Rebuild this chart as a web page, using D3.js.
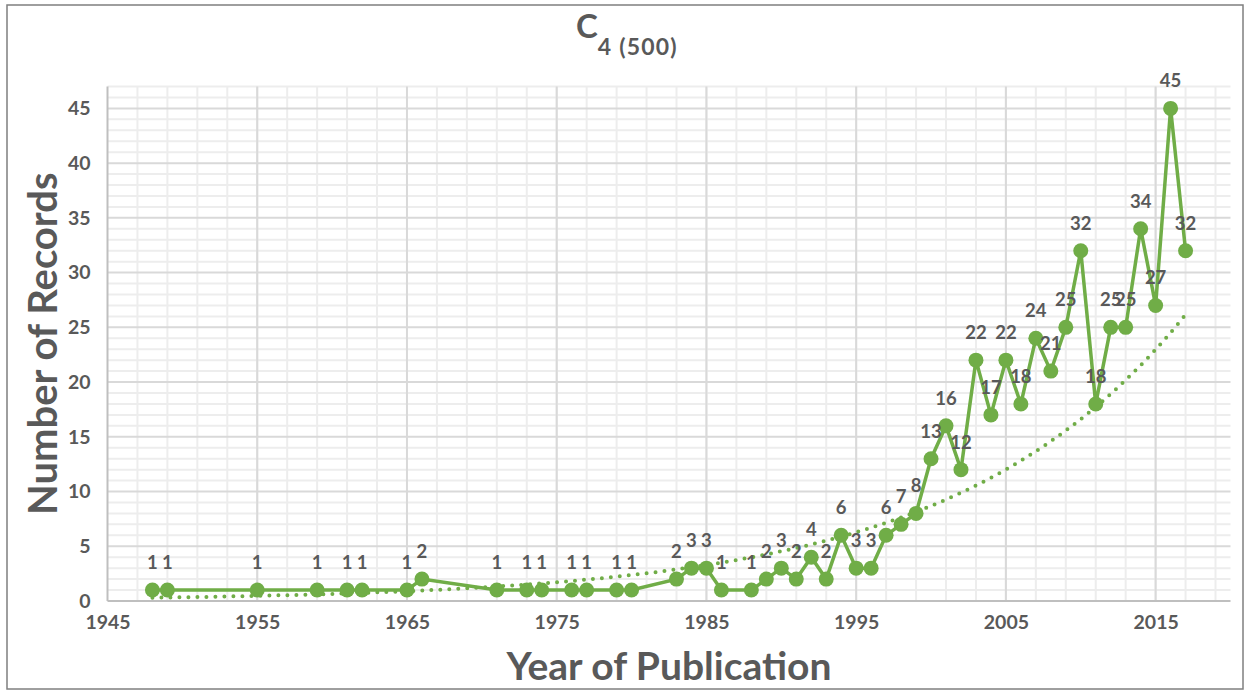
<!DOCTYPE html>
<meta charset="utf-8">
<script src="https://d3js.org/d3.v7.min.js"></script>
<style>
    body { margin: 0; background: #fff; }
    text { font-family: Lato, "Open Sans", sans-serif; font-weight: 700; fill: #595959; }
    .grid-minor line { stroke: #ededed; stroke-width: 2; }
    .grid-major line { stroke: #d9d9d9; stroke-width: 2; }
    .axis path, .axis line { display: none; }
    .axis text { font-size: 19.5px; font-family: Lato, "Open Sans", sans-serif; font-weight: 700; fill: #595959; }
    .series { fill: none; stroke: #70ad47; stroke-width: 3.5; }
    .trend { fill: none; stroke: #70ad47; stroke-width: 4; stroke-dasharray: 0 9; stroke-linecap: round; }
    .dot { fill: #70ad47; }
    .label { font-size: 18.5px; text-anchor: middle; }
</style>
<body>
<svg width="1245" height="690" class="chart"></svg>
</body>
<script>
    // records per year of publication
    const years = [1948, 1949, 1955, 1959, 1961, 1962, 1965, 1966, 1971, 1973, 1974, 1976, 1977, 1979, 1980,
        1983, 1984, 1985, 1986, 1988, 1989, 1990, 1991, 1992, 1993, 1994, 1995, 1996, 1997,
        1998, 1999, 2000, 2001, 2002, 2003, 2004, 2005, 2006, 2007, 2008, 2009, 2010,
        2011, 2012, 2013, 2014, 2015, 2016, 2017];
    const records = [1, 1, 1, 1, 1, 1, 1, 2, 1, 1, 1, 1, 1, 1, 1,
        2, 3, 3, 1, 1, 2, 3, 2, 4, 2, 6, 3, 3, 6,
        7, 8, 13, 16, 12, 22, 17, 22, 18, 24, 21, 25, 32,
        18, 25, 25, 34, 27, 45, 32];
    const xTicks = [1945, 1955, 1965, 1975, 1985, 1995, 2005, 2015];
    const yTicks = [0, 5, 10, 15, 20, 25, 30, 35, 40, 45];

    const data = years.map((yr, i) => ({ year: yr, value: records[i] }));

    const plotL = 107.5, plotR = 1230.5, plotT = 86.5, plotB = 601;

    const x = d3.scaleLinear().domain([1945, 2020]).range([plotL, plotR]);
    const y = d3.scaleLinear().domain([0, 47]).range([plotB, plotT]);

    const svg = d3.select('.chart');

    // frame
    svg.append('rect')
        .attr('x', 7).attr('y', 5).attr('width', 1236).attr('height', 684)
        .attr('fill', 'none').attr('stroke', '#7f7f7f').attr('stroke-width', 1.5);

    // minor grid
    const minor = svg.append('g').attr('class', 'grid-minor');
    minor.selectAll('.h').data(d3.range(1, 48).filter(v => v % 5 !== 0)).enter()
        .append('line').attr('x1', plotL).attr('x2', plotR)
        .attr('y1', d => y(d)).attr('y2', d => y(d));
    minor.selectAll('.v').data(d3.range(1947, 2020, 2)).enter()
        .append('line').attr('y1', plotT).attr('y2', plotB)
        .attr('x1', d => x(d)).attr('x2', d => x(d));

    // major grid
    const major = svg.append('g').attr('class', 'grid-major');
    major.selectAll('.h').data(yTicks.slice(1)).enter()
        .append('line').attr('x1', plotL).attr('x2', plotR)
        .attr('y1', d => y(d)).attr('y2', d => y(d));
    major.selectAll('.v').data(xTicks.slice(1)).enter()
        .append('line').attr('y1', plotT).attr('y2', plotB)
        .attr('x1', d => x(d)).attr('x2', d => x(d));

    // axis lines
    svg.append('line').attr('x1', plotL).attr('x2', plotL).attr('y1', plotT).attr('y2', plotB)
        .attr('stroke', '#bfbfbf').attr('stroke-width', 2);
    svg.append('line').attr('x1', plotL).attr('x2', plotR).attr('y1', plotB).attr('y2', plotB)
        .attr('stroke', '#bfbfbf').attr('stroke-width', 2);

    svg.append('g').attr('class', 'axis')
        .attr('transform', 'translate(0,' + (plotB + 11) + ')')
        .call(d3.axisBottom(x).tickValues(xTicks).tickFormat(d3.format('d')).tickSize(0));
    svg.append('g').attr('class', 'axis')
        .attr('transform', 'translate(' + (plotL - 14) + ',0)')
        .call(d3.axisLeft(y).tickValues(yTicks).tickSize(0));

    // exponential trendline (least squares on ln of records, as a spreadsheet does)
    const n = data.length;
    const mx = d3.mean(data, d => d.year);
    const my = d3.mean(data, d => Math.log(d.value));
    const b = d3.sum(data, d => (d.year - mx) * (Math.log(d.value) - my)) /
        d3.sum(data, d => (d.year - mx) * (d.year - mx));
    const a = Math.exp(my - b * mx);
    const trendYears = d3.range(years[0], years[n - 1] + 0.01, 0.5);
    svg.append('path').datum(trendYears).attr('class', 'trend')
        .attr('d', d3.line().x(d => x(d)).y(d => y(a * Math.exp(b * d))));

    // series
    svg.append('path').datum(data).attr('class', 'series')
        .attr('d', d3.line().x(d => x(d.year)).y(d => y(d.value)));
    svg.selectAll('.dot').data(data).enter().append('circle')
        .attr('class', 'dot').attr('r', 7.5)
        .attr('cx', d => x(d.year)).attr('cy', d => y(d.value));
    svg.selectAll('.label').data(data).enter().append('text')
        .attr('class', 'label')
        .attr('x', d => x(d.year)).attr('y', d => y(d.value) - 21)
        .text(d => d.value);

    // titles
    const title = svg.append('text').attr('x', 576).attr('y', 38);
    title.append('tspan').attr('font-size', 33).text('C');
    title.append('tspan').attr('font-size', 23).attr('dy', 17)
        .attr('letter-spacing', 1.2).text('4 (500)');

    svg.append('text').attr('x', (plotL + plotR) / 2).attr('y', 680)
        .attr('text-anchor', 'middle').attr('font-size', 39).text('Year of Publication');
    svg.append('text')
        .attr('transform', 'translate(57,' + (plotT + plotB) / 2 + ') rotate(-90)')
        .attr('text-anchor', 'middle').attr('font-size', 40).text('Number of Records');
</script>
